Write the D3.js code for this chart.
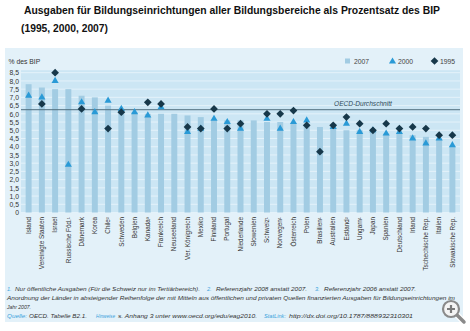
<!DOCTYPE html>
<html>
<head>
<meta charset="utf-8">
<script src="https://cdn.jsdelivr.net/npm/d3@7"></script>
<style>
  body { margin: 0; background: #fff; }
  svg text { font-family: "Liberation Sans", Arial, sans-serif; }
</style>
</head>
<body>
<div id="chart"></div>
<script>

// countries, sorted by 2007 spending
const countries = ["Island", "Vereinigte Staaten", "Israel", "Russische Föd.¹", "Dänemark", "Korea", "Chile²",
    "Schweden", "Belgien", "Kanada³", "Frankreich", "Neuseeland", "Ver. Königreich", "Mexiko", "Finnland",
    "Portugal", "Niederlande", "Slowenien", "Schweiz¹", "Norwegen¹", "Österreich", "Polen", "Brasilien¹",
    "Australien", "Estland²", "Ungarn¹", "Japan", "Spanien", "Deutschland", "Irland", "Tschechische Rep.",
    "Italien", "Slowakische Rep."];

const values2007 = [7.8, 7.6, 7.5, 7.5, 7.1, 7.0, 6.5, 6.3, 6.1, 6.0, 6.0, 6.0, 5.9, 5.8, 5.6, 5.6, 5.6,
    5.6, 5.5, 5.5, 5.4, 5.3, 5.2, 5.2, 5.0, 5.0, 4.9, 4.8, 4.8, 4.7, 4.6, 4.5, 4.0];

const values2000 = [7.1, 7.0, 8.0, 2.9, 6.7, 6.1, 6.8, 6.3, 6.1, 5.9, 6.4, null, 4.9, 5.1, 5.7, 5.5, 5.1,
    null, 5.7, 5.1, 5.5, 5.6, null, 5.2, 5.4, 4.9, 5.0, 4.8, 4.9, 4.5, 4.2, 4.5, 4.1];

const values1995 = [null, 6.6, 8.5, null, 6.3, null, 5.1, 6.1, null, 6.7, 6.6, null, 5.2, 5.1, 6.3, 5.1, 5.4,
    null, 6.0, 6.0, 6.2, 5.3, 3.7, 5.3, 5.8, 5.4, 5.0, 5.4, 5.1, 5.2, 5.1, 4.7, 4.7];

const oecdAverage = 6.25;
const yTicks = d3.range(0, 8.51, 0.5);

const W = 470, H = 331;

const svg = d3.select("#chart").append("svg")
    .attr("width", W)
    .attr("height", H);

// panel background
svg.append("rect")
    .attr("x", 5).attr("y", 48)
    .attr("width", 458).attr("height", 274)
    .attr("fill", "#e3f1f9");

// title
svg.append("text")
    .attr("x", 24).attr("y", 14)
    .attr("font-size", 11).attr("font-weight", "bold").attr("fill", "#111")
    .attr("textLength", 416).attr("lengthAdjust", "spacingAndGlyphs")
    .text("Ausgaben für Bildungseinrichtungen aller Bildungsbereiche als Prozentsatz des BIP");
svg.append("text")
    .attr("x", 21).attr("y", 31.5)
    .attr("font-size", 11).attr("font-weight", "bold").attr("fill", "#111")
    .attr("textLength", 87).attr("lengthAdjust", "spacingAndGlyphs")
    .text("(1995, 2000, 2007)");

// scales
const x = d3.scaleBand()
    .domain(countries)
    .range([22, 459])
    .paddingInner(0.55)
    .paddingOuter(0.275);

const y = d3.scaleLinear()
    .domain([0, 8.5])
    .range([212.5, 72.7]);

// plot background + stripes
svg.append("rect")
    .attr("x", 21).attr("y", y(8.65))
    .attr("width", 439).attr("height", y(0) - y(8.65))
    .attr("fill", "#cce6f4");

svg.append("g").selectAll("line")
    .data(yTicks)
    .join("line")
    .attr("x1", 21).attr("x2", 460)
    .attr("y1", d => y(d)).attr("y2", d => y(d))
    .attr("stroke", "#e4f2fa")
    .attr("stroke-width", 1);

// y axis
const yAxis = svg.append("g")
    .attr("transform", "translate(20,0)")
    .call(d3.axisLeft(y)
        .tickValues(yTicks)
        .tickSize(0)
        .tickPadding(1)
        .tickFormat(d => d === 0 ? "0" : d3.format(".1f")(d).replace(".", ",")));
yAxis.select(".domain").remove();
yAxis.selectAll("text")
    .attr("font-size", 6.8)
    .attr("fill", "#333")
    .attr("font-family", "'DejaVu Sans', sans-serif");

svg.append("text")
    .attr("x", 8.5).attr("y", 64)
    .attr("font-size", 6.8).attr("fill", "#333")
    .text("% des BIP");

// bars 2007
svg.append("g").selectAll("rect")
    .data(countries)
    .join("rect")
    .attr("x", d => x(d))
    .attr("y", (d, i) => y(values2007[i]))
    .attr("width", x.bandwidth())
    .attr("height", (d, i) => y(0) - y(values2007[i]))
    .attr("fill", "#a2cce3");

// OECD average line
svg.append("line")
    .attr("x1", 21).attr("x2", 460)
    .attr("y1", y(oecdAverage)).attr("y2", y(oecdAverage))
    .attr("stroke", "#4e6e7e")
    .attr("stroke-width", 1);
svg.append("text")
    .attr("x", 334).attr("y", y(oecdAverage) - 4)
    .attr("font-size", 6.6).attr("font-style", "italic").attr("fill", "#2f4a58")
    .text("OECD-Durchschnitt");

const cx = d => x(d) + x.bandwidth() / 2;

// triangles 2000
const tri = d3.symbol().type(d3.symbolTriangle).size(22);
svg.append("g").selectAll("path")
    .data(countries.filter((d, i) => values2000[i] != null))
    .join("path")
    .attr("d", tri)
    .attr("transform", d => `translate(${cx(d)},${y(values2000[countries.indexOf(d)])})`)
    .attr("fill", "#2a9ad6");

// diamonds 1995
const dia = d3.symbol().type(d3.symbolSquare).size(30);
svg.append("g").selectAll("path")
    .data(countries.filter((d, i) => values1995[i] != null))
    .join("path")
    .attr("d", dia)
    .attr("transform", d => `translate(${cx(d)},${y(values1995[countries.indexOf(d)])}) rotate(45)`)
    .attr("fill", "#17384a");

// country labels
svg.append("g").selectAll("text")
    .data(countries)
    .join("text")
    .attr("transform", d => `translate(${cx(d) + 2.2},217) rotate(-90)`)
    .attr("text-anchor", "end")
    .attr("font-size", 6.4)
    .attr("fill", "#333")
    .text(d => d);

// legend
const legend = svg.append("g").attr("font-size", 6.8).attr("fill", "#444");
legend.append("rect").attr("x", 345).attr("y", 58.5).attr("width", 5).attr("height", 5).attr("fill", "#a2cce3");
legend.append("text").attr("x", 354).attr("y", 64).text("2007");
legend.append("path").attr("d", tri).attr("transform", "translate(392.5,61.5)").attr("fill", "#2a9ad6");
legend.append("text").attr("x", 398).attr("y", 64).text("2000");
legend.append("path").attr("d", dia).attr("transform", "translate(434.5,61) rotate(45)").attr("fill", "#17384a");
legend.append("text").attr("x", 440).attr("y", 64).text("1995");

// footnotes
const blue = "#3ba3dc", dark = "#333";
const notes = svg.append("g").attr("font-size", 5.6).attr("font-style", "italic");

function noteLine(yPos, parts) {
    const t = notes.append("text").attr("y", yPos);
    parts.forEach(p => {
        t.append("tspan")
            .attr("x", p[0])
            .attr("fill", p[2] ? blue : dark)
            .attr("textLength", p[3] || null)
            .attr("lengthAdjust", "spacingAndGlyphs")
            .text(p[1]);
    });
}

noteLine(291, [
    [7, "1.", true],
    [15, "Nur öffentliche Ausgaben (Für die Schweiz nur im Tertiärbereich).", false, 185],
    [207, "2.", true],
    [216, "Referenzjahr 2008 anstatt 2007.", false, 91],
    [315, "3.", true],
    [324, "Referenzjahr 2006 anstatt 2007.", false, 92]
]);
noteLine(300, [
    [7, "Anordnung der Länder in absteigender Reihenfolge der mit Mitteln aus öffentlichen und privaten Quellen finanzierten Ausgaben für Bildungseinrichtungen im", false, 448]
]);
noteLine(308.5, [
    [7, "Jahr 2007.", false, 24]
]);
noteLine(318, [
    [7, "Quelle:", true, 20],
    [29, "OECD. Tabelle B2.1.", false, 58],
    [96, "Hinweise", true, 19],
    [118, "s. Anhang 3 unter www.oecd.org/edu/eag2010.", false, 139],
    [264, "StatLink:", true, 22],
    [289, "http://dx.doi.org/10.1787/888932310301", false, 124]
]);

// zoom icon in the corner
const icon = svg.append("g").attr("transform", "translate(451,309)");
icon.append("line").attr("x1", 5).attr("y1", 5).attr("x2", 13).attr("y2", 13)
    .attr("stroke", "#fff").attr("stroke-width", 6).attr("stroke-linecap", "round");
icon.append("line").attr("x1", 5).attr("y1", 5).attr("x2", 13).attr("y2", 13)
    .attr("stroke", "#8a8a8a").attr("stroke-width", 3.5).attr("stroke-linecap", "round");
icon.append("circle").attr("r", 8).attr("fill", "#f4f4f4").attr("stroke", "#8a8a8a").attr("stroke-width", 2.2);
icon.append("path").attr("d", "M-4,0H4M0,-4V4").attr("stroke", "#7a7a7a").attr("stroke-width", 2.2);

</script>
</body>
</html>
